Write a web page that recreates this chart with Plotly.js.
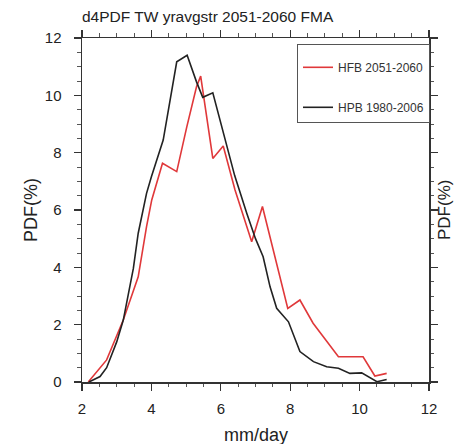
<!DOCTYPE html>
<html>
<head>
<meta charset="utf-8">
<script src="https://cdn.plot.ly/plotly-3.0.1.min.js"></script>
<style>html,body{margin:0;padding:0;background:#fff;}#chart{width:456px;height:444px;}</style>
</head>
<body>
<div id="chart"></div>
<script>
// HFB 2051-2060 (red)
const hfbX = [2.18, 2.52, 2.71, 3.19, 3.62, 3.86, 4.01, 4.32, 4.73, 5.02, 5.30, 5.42, 5.77, 6.07, 6.41, 6.89, 7.20, 7.93, 8.28, 8.66, 9.39, 10.10, 10.44, 10.78];
const hfbY = [0.00, 0.48, 0.77, 2.16, 3.67, 5.42, 6.35, 7.63, 7.34, 8.90, 10.30, 10.67, 7.80, 8.23, 6.70, 4.89, 6.12, 2.57, 2.86, 2.05, 0.88, 0.88, 0.21, 0.30];
// HPB 1980-2006 (black)
const hpbX = [2.20, 2.52, 2.71, 3.00, 3.19, 3.48, 3.62, 3.86, 4.00, 4.34, 4.73, 5.03, 5.30, 5.48, 5.77, 6.07, 6.40, 6.75, 7.00, 7.22, 7.42, 7.61, 7.95, 8.28, 8.67, 9.05, 9.39, 9.72, 10.06, 10.50, 10.78];
const hpbY = [0.00, 0.19, 0.50, 1.40, 2.16, 3.96, 5.19, 6.58, 7.16, 8.44, 11.17, 11.40, 10.47, 9.93, 10.09, 8.67, 7.20, 5.88, 5.00, 4.37, 3.32, 2.57, 2.10, 1.06, 0.71, 0.53, 0.48, 0.30, 0.32, 0.01, 0.09];
const xTicks = [2, 4, 6, 8, 10, 12];
const yTicks = [0, 2, 4, 6, 8, 10, 12];

const FONT = "Liberation Sans, Arial, sans-serif";
const traces = [
  {x: hfbX, y: hfbY, mode: 'lines', name: 'HFB 2051-2060', legendgroup: 'a',
   line: {color: '#e0383a', width: 1.6}},
  {x: hpbX, y: hpbY, mode: 'lines', name: 'HPB 1980-2006', legendgroup: 'b',
   line: {color: '#222222', width: 1.6}}
];
const axisCommon = {
  showgrid: false, zeroline: false, showline: true, linecolor: '#333', linewidth: 1.5,
  mirror: 'allticks', ticks: 'outside', ticklen: 7, tickwidth: 1.3, tickcolor: '#333',
  tickfont: {family: FONT, size: 15, color: '#222'},
  minor: {dtick: 0.5, ticks: 'outside', ticklen: 3.5, tickwidth: 1, tickcolor: '#555'}
};
const layout = {
  width: 456, height: 444,
  margin: {l: 82, r: 27, t: 38, b: 62},
  paper_bgcolor: '#ffffff', plot_bgcolor: '#ffffff',
  font: {family: FONT, color: '#222'},
  title: {text: 'd4PDF TW yravgstr 2051-2060 FMA', x: 82/456, xref: 'container', xanchor: 'left',
          y: 1 - 17/444, yanchor: 'middle', font: {family: FONT, size: 15.5, color: '#222'}},
  xaxis: Object.assign({}, axisCommon, {range: [2, 12], tickvals: xTicks, ticktext: xTicks.map(String),
          ticklabelstandoff: 5}),
  yaxis: Object.assign({}, axisCommon, {range: [0, 12], tickvals: yTicks, ticktext: yTicks.map(String),
          ticklabelstandoff: 9}),
  showlegend: true,
  legend: {x: (297-82)/347, y: 1 - 6/344, xanchor: 'left', yanchor: 'top',
           title: {text: '\u00a0', font: {family: FONT, size: 6}},
           bordercolor: '#555', borderwidth: 1, bgcolor: '#ffffff', tracegroupgap: 21,
           font: {family: FONT, size: 12, color: '#333'}},
  annotations: [
    {text: 'PDF(%)', xref: 'paper', yref: 'paper', x: 0, y: 0.5, xanchor: 'center', yanchor: 'middle',
     xshift: -51, textangle: -90, showarrow: false, font: {family: FONT, size: 18, color: '#222'}},
    {text: 'PDF(%)', xref: 'paper', yref: 'paper', x: 1, y: 0.5, xanchor: 'center', yanchor: 'middle',
     xshift: 15, textangle: -90, showarrow: false, font: {family: FONT, size: 17, color: '#222'}},
    {text: 'mm/day', xref: 'paper', yref: 'paper', x: 0.5, y: 0, xanchor: 'center', yanchor: 'middle',
     yshift: -53, showarrow: false, font: {family: FONT, size: 18, color: '#222'}}
  ]
};
Plotly.newPlot('chart', traces, layout, {displayModeBar: false, staticPlot: true});
</script>
</body>
</html>
